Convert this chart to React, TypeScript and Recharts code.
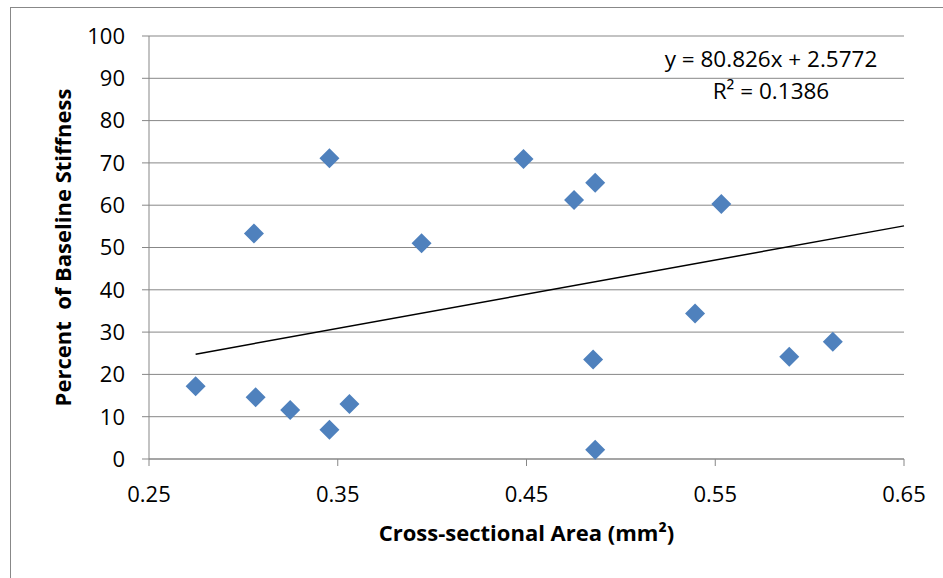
import React from "react";
import { ScatterChart, Scatter, XAxis, YAxis, CartesianGrid } from "recharts";

// cross-sectional area (mm²) and percent of baseline stiffness
const area = [
  0.2747, 0.3056, 0.3065, 0.3248, 0.3456, 0.3456, 0.3562, 0.3944, 0.4484,
  0.4752, 0.4864, 0.4853, 0.4864, 0.5393, 0.5532, 0.5892, 0.6123,
];
const stiffness = [
  17.2, 53.3, 14.6, 11.6, 71.1, 6.9, 13.0, 51.0, 70.9,
  61.2, 65.3, 23.5, 2.2, 34.4, 60.3, 24.2, 27.7,
];

const slope = 80.826;
const intercept = 2.5772;
const rSquared = 0.1386;
const trendX = [0.2747, 0.65];

const xTicks = [0.25, 0.35, 0.45, 0.55, 0.65];
const yTicks = [0, 10, 20, 30, 40, 50, 60, 70, 80, 90, 100];

const points = area.map((x, i) => ({ x, y: stiffness[i] }));
const trend = trendX.map((x) => ({ x, y: slope * x + intercept }));

const FONT = "'Open Sans', sans-serif";
const GRID = "#878787";

const Diamond = (props: any) => {
  const { cx, cy } = props;
  if (cx == null || cy == null) return <g />;
  const r = 10;
  return (
    <polygon
      points={`${cx},${cy - r} ${cx + r},${cy} ${cx},${cy + r} ${cx - r},${cy}`}
      fill="#4F81BD"
    />
  );
};

const YTitle = (props: any) => {
  const vb = props.viewBox || { x: 0, y: 29, width: 139, height: 423 };
  const x = vb.x + 52;
  const y = vb.y + vb.height / 2;
  return (
    <text
      x={x}
      y={y}
      transform={`rotate(-90, ${x}, ${y})`}
      textAnchor="middle"
      dominantBaseline="central"
      fontFamily={FONT}
      fontWeight="bold"
      fontSize={22}
      fill="#000"
      style={{ whiteSpace: "pre" }}
    >
      {"Percent  of Baseline Stiffness"}
    </text>
  );
};

const XTitle = (props: any) => {
  const vb = props.viewBox || { x: 139, y: 452, width: 755, height: 82 };
  return (
    <text
      x={vb.x + vb.width / 2}
      y={vb.y + 82}
      textAnchor="middle"
      fontFamily={FONT}
      fontWeight="bold"
      fontSize={22}
      fill="#000"
    >
      Cross-sectional Area (mm²)
    </text>
  );
};

export default function App() {
  return (
    <div
      style={{
        position: "fixed",
        left: 0,
        top: 0,
        width: 943,
        height: 578,
        overflow: "hidden",
        background: "#fff",
      }}
    >
      <div
        style={{
          position: "absolute",
          left: 10,
          top: 7,
          width: 960,
          height: 600,
          borderLeft: "1px solid #888",
          borderTop: "1px solid #888",
        }}
      />
      <div style={{ position: "absolute", left: 10, top: 7 }}>
        <ScatterChart
          width={933}
          height={571}
          margin={{ top: 29, right: 39, bottom: 37, left: 0 }}
        >
          <CartesianGrid vertical={false} stroke={GRID} strokeWidth={1} />
          <XAxis
            type="number"
            dataKey="x"
            domain={[0.25, 0.65]}
            ticks={xTicks}
            interval={0}
            tickFormatter={(v: number) => v.toFixed(2)}
            height={82}
            tickSize={7}
            tickMargin={20}
            axisLine={{ stroke: GRID }}
            tickLine={{ stroke: GRID }}
            tick={{ fill: "#000", fontSize: 22, fontFamily: FONT }}
            label={<XTitle />}
          />
          <YAxis
            type="number"
            dataKey="y"
            domain={[0, 100]}
            ticks={yTicks}
            interval={0}
            width={139}
            tickSize={7}
            tickMargin={17}
            axisLine={{ stroke: GRID }}
            tickLine={{ stroke: GRID }}
            tick={{ fill: "#000", fontSize: 22, fontFamily: FONT }}
            label={<YTitle />}
          />
          <Scatter
            data={trend}
            line={{ stroke: "#000", strokeWidth: 1.5 }}
            shape={() => <g />}
            isAnimationActive={false}
          />
          <Scatter data={points} shape={Diamond} isAnimationActive={false} />
        </ScatterChart>
      </div>
      <div
        style={{
          position: "absolute",
          left: 621,
          top: 43,
          width: 300,
          textAlign: "center",
          fontFamily: FONT,
          fontSize: 22.5,
          lineHeight: "32px",
          color: "#000",
        }}
      >
        <div>y = {slope}x + {intercept}</div>
        <div>R² = {rSquared}</div>
      </div>
    </div>
  );
}
